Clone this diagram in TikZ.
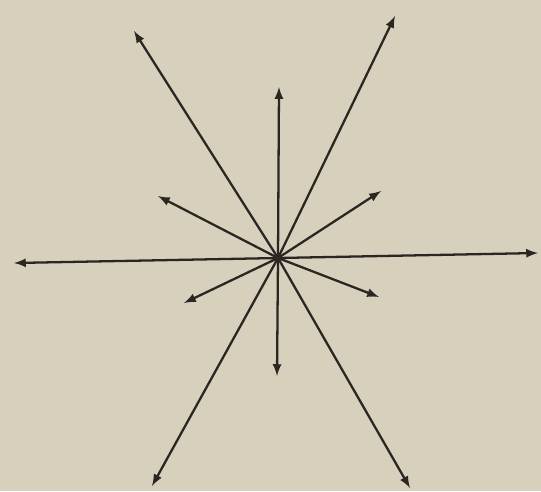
\documentclass[tikz,border=0pt]{standalone}
\definecolor{paper}{HTML}{D6D0BD}
\definecolor{ink}{HTML}{2B2621}
\tikzset{>=latex}

\begin{document}
\begin{tikzpicture}[x=0.2mm,y=-0.2mm]
  \path[use as bounding box,fill=paper] (0,0) rectangle (541,491); % paper
  \coordinate (c) at (278,258); % centre of the star
  \foreach \n/\x/\y in {nwl/134/31,nel/395/16,n/279/87,wm/158/196,em/381/191,w/14/263,
                        e/538/253,sws/184/303,ses/379/297,s/277/376,swl/152/486,sel/410/488}{ % loop over tips
    \coordinate (\n) at (\x,\y);
    \draw[->,ink,line width=1.3pt,line cap=round] (c) -- (\n); % ray
  }
\end{tikzpicture}
\end{document}
